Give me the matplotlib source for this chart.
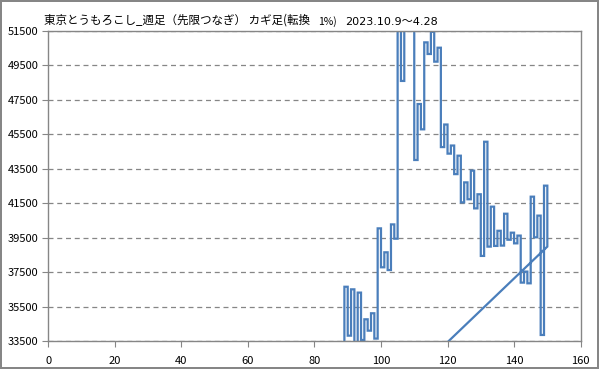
import numpy as np
import matplotlib
matplotlib.use("Agg")
import matplotlib.pyplot as plt

plt.rcParams['font.family'] = ['Noto Sans CJK JP', 'DejaVu Sans']

# kagi reversal points: one value per step on x (weeks index)
start_x = 89
start_y = 27700
kagi_x = np.arange(89, 151)
kagi_y = [36650, 33810, 36500, 33300, 36310, 33560, 34760, 34100, 35110, 33640,
          40040, 37780, 38650, 37620, 40270, 39440, 52000, 48600, 52300, 51700,
          52200, 44010, 47260, 45790, 50840, 50165, 51450, 49720, 50530, 44760,
          46070, 44380, 44850, 43190, 44260, 41550, 42710, 41730, 43390, 41200,
          42020, 38440, 45070, 38980, 41300, 39020, 39900, 39040, 40890, 39380,
          39790, 39170, 39620, 36890, 37530, 36850, 41880, 39520, 40780, 33850,
          42520, 38980]

yticks = np.arange(33500, 51501, 2000)
xticks = np.arange(0, 161, 20)

title_main = "東京とうもろこし_週足（先限つなぎ） カギ足(転換"
title_pct = "1%)"
title_date = "2023.10.9～4.28"

# build the kagi path: vertical at each x, then one step across
px = [start_x]
py = [start_y]
for i, (x, y) in enumerate(zip(kagi_x, kagi_y)):
    px.append(x)
    py.append(y)
    if i < len(kagi_x) - 1:
        px.append(kagi_x[i + 1])
        py.append(y)
# the series closes back on its first point
px.append(start_x)
py.append(start_y)

fig = plt.figure(figsize=(5.99, 3.69), dpi=100)
fig.patch.set_edgecolor('#868686')
fig.patch.set_linewidth(1.5)
ax = fig.add_axes([48.3 / 599, 28 / 369, 532.3 / 599, 310 / 369])

grey = '#868686'
ax.plot(px, py, color='#4A7EBB', lw=1.6, solid_joinstyle='miter')

ax.set_xlim(0, 160)
ax.set_ylim(33500, 51500)
ax.set_xticks(xticks)
ax.set_yticks(yticks)
ax.tick_params(axis='both', direction='out', length=4, color=grey,
               labelsize=8, labelcolor='black', pad=3)
ax.tick_params(axis='x', pad=7)
for s in ax.spines.values():
    s.set_color(grey)
    s.set_linewidth(1)
ax.yaxis.grid(True, color=grey, ls=(0, (4, 3)), lw=0.9)
ax.set_axisbelow(True)

t1 = fig.text(44 / 599, 1 - 24 / 369, title_main, fontsize=8.3, va='baseline')
t2 = ax.annotate(title_pct, xy=(1, 0), xycoords=t1, xytext=(6, 0),
                 textcoords='offset points', fontsize=7.5, va='bottom')
ax.annotate(title_date, xy=(1, 0), xycoords=t2, xytext=(6, 0),
            textcoords='offset points', fontsize=8, va='bottom',
            family=['DejaVu Sans', 'Noto Sans CJK JP'])

fig.savefig('out.png', dpi=100, edgecolor=fig.get_edgecolor())
